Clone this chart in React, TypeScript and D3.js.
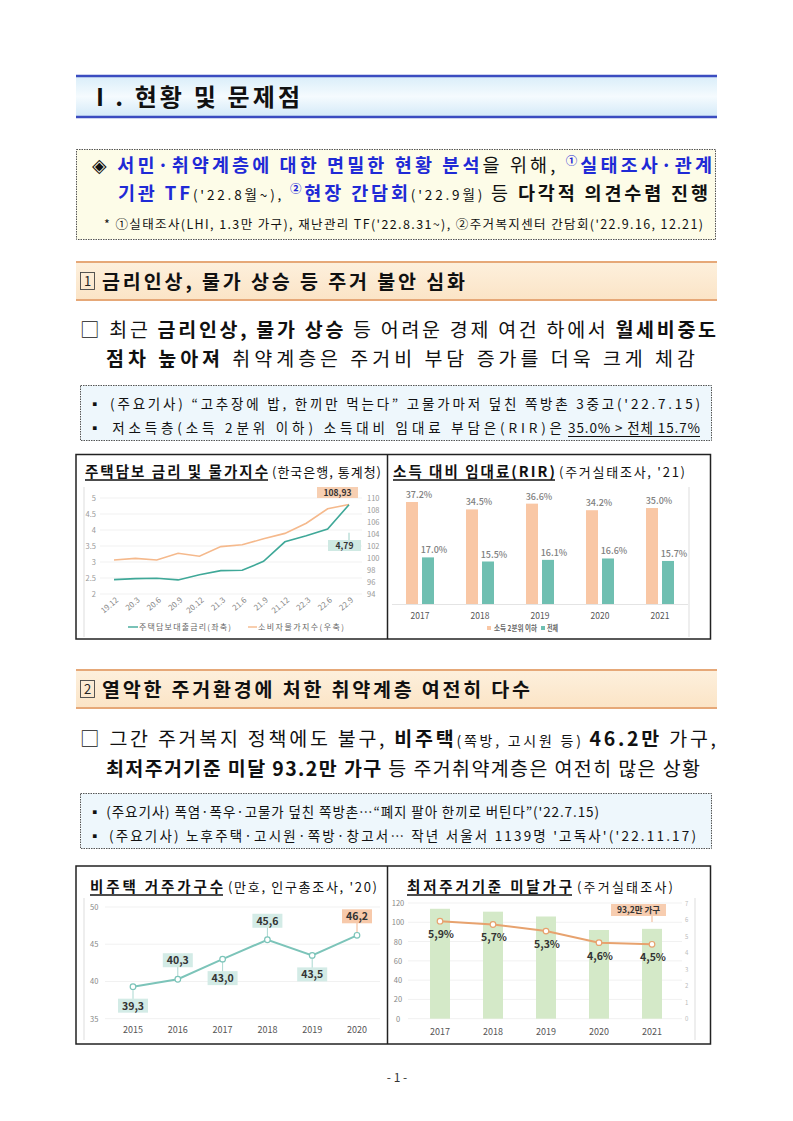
import React from "react";
import * as d3 from "d3";

const KR = "'Noto Sans CJK KR', 'Noto Sans', sans-serif";

// Chart 1: mortgage rate & CPI
const rateMonths = ["19.12", "20.3", "20.6", "20.9", "20.12", "21.3", "21.6", "21.9", "21.12", "22.3", "22.6", "22.9"];
const mortgageRate = [2.45, 2.48, 2.49, 2.44, 2.6, 2.73, 2.74, 3.02, 3.63, 3.82, 4.03, 4.79];
const cpiIndex = [99.67, 99.94, 99.67, 100.8, 100.3, 101.9, 102.2, 103.2, 104.1, 105.8, 108.2, 108.93];
const rateTicks = [2, 2.5, 3, 3.5, 4, 4.5, 5];
const cpiTicks = [94, 96, 98, 100, 102, 104, 106, 108, 110];

// Chart 2: RIR
const rirYears = ["2017", "2018", "2019", "2020", "2021"];
const rirLowIncome = [37.2, 34.5, 36.6, 34.2, 35.0];
const rirAll = [17.0, 15.5, 16.1, 16.6, 15.7];

// Chart 3: non-housing households
const nhYears = ["2015", "2016", "2017", "2018", "2019", "2020"];
const nonHousing = [39.3, 40.3, 43.0, 45.6, 43.5, 46.2];
const nhTicks = [35, 40, 45, 50];
const nhLabelAbove = [false, true, false, true, false, true];

// Chart 4: below minimum housing standard
const msYears = ["2017", "2018", "2019", "2020", "2021"];
const msHouseholds = [114, 111, 106, 92, 93.2];
const msRatio = [5.9, 5.7, 5.3, 4.6, 4.5];
const msTicksLeft = [0, 20, 40, 60, 80, 100, 120];
const msTicksRight = [0, 1, 2, 3, 4, 5, 6, 7];

type Seg = { t: string; b?: boolean; c?: string; s?: number; sup?: boolean };

function Line({ x, y, w, size, segs, weight }: { x: number; y: number; w?: number; size: number; segs: Seg[]; weight?: number }) {
  const out: any[] = [];
  let prevSup = false;
  segs.forEach((s, i) => {
    let dy: number | undefined = undefined;
    if (s.sup) dy = -size * 0.4;
    else if (prevSup) dy = size * 0.4;
    out.push(
      <tspan
        key={i}
        dy={dy}
        fontWeight={s.b ? 700 : weight ?? 400}
        fill={s.c ?? "#111"}
        fontSize={s.sup ? size * 0.62 : s.s ?? size}
      >
        {s.t}
      </tspan>
    );
    prevSup = !!s.sup;
  });
  return (
    <text x={x} y={y} fontSize={size} fontFamily={KR} textLength={w} lengthAdjust={w ? "spacing" : undefined} xmlSpace="preserve">
      {out}
    </text>
  );
}

function ChartTitle({ y, x1, x2, x3, x4, bold, src }: { y: number; x1: number; x2: number; x3: number; x4: number; bold: string; src: string }) {
  return (
    <g fontFamily={KR}>
      <text x={x1} y={y} fontSize={14.5} fontWeight={700} fill="#111" textLength={x2 - x1} lengthAdjust="spacing">{bold}</text>
      <line x1={x1} x2={x2} y1={y + 3} y2={y + 3} stroke="#111" strokeWidth={1.3} />
      <text x={x3} y={y} fontSize={13} fill="#111" textLength={x4 - x3} lengthAdjust="spacing">{src}</text>
    </g>
  );
}

const BLUE = "#1f2ad6";

function Chart1() {
  const x = d3.scalePoint<string>().domain(rateMonths).range([114, 349]);
  const yL = d3.scaleLinear().domain([2, 5]).range([594, 498]);
  const yR = d3.scaleLinear().domain([94, 110]).range([594, 498]);
  const lineL = d3.line<number>().x((_, i) => x(rateMonths[i])!).y((d) => yL(d));
  const lineR = d3.line<number>().x((_, i) => x(rateMonths[i])!).y((d) => yR(d));
  const last = rateMonths.length - 1;
  return (
    <g fontFamily={KR}>
      <line x1={84} x2={84} y1={487} y2={637} stroke="#ddd" />
      {rateTicks.map((t) => (
        <g key={t}>
          <line x1={100} x2={362} y1={yL(t)} y2={yL(t)} stroke="#f1f1f1" />
          <text x={96} y={yL(t) + 3} fontSize={7.5} fill="#999" textAnchor="end">{t}</text>
        </g>
      ))}
      {cpiTicks.map((t) => (
        <text key={t} x={367} y={yR(t) + 3} fontSize={7.5} fill="#999">{t}</text>
      ))}
      <path d={lineR(cpiIndex)!} fill="none" stroke="#f5b98c" strokeWidth={1.6} />
      <path d={lineL(mortgageRate)!} fill="none" stroke="#3fa898" strokeWidth={1.6} />
      {rateMonths.map((m) => (
        <text key={m} transform={`translate(${x(m)! + 5},${601}) rotate(-40)`} fontSize={8} fill="#888" textAnchor="end">{m}</text>
      ))}
      <rect x={317} y={487} width={41} height={11} fill="#f7cfb2" />
      <text x={337.5} y={495.5} fontSize={8.5} fontWeight={700} fill="#333" textAnchor="middle">108,93</text>
      <line x1={x(rateMonths[last])!} x2={x(rateMonths[last])!} y1={yL(mortgageRate[last]) + 28} y2={540} stroke="#9ccfc6" />
      <rect x={328} y={540} width={33} height={11} fill="#cfe9e3" />
      <text x={344.5} y={548.5} fontSize={8.5} fontWeight={700} fill="#333" textAnchor="middle">4,79</text>
      <line x1={128} x2={138} y1={627} y2={627} stroke="#3fa898" strokeWidth={1.4} />
      <text x={139} y={630} fontSize={8} fill="#666" textLength={92} lengthAdjust="spacing">주택담보대출금리(좌축)</text>
      <line x1={248} x2={257} y1={627} y2={627} stroke="#f5b98c" strokeWidth={1.4} />
      <text x={258} y={630} fontSize={8} fill="#666" textLength={86} lengthAdjust="spacing">소비자물가지수(우축)</text>
    </g>
  );
}

function Chart2() {
  const x = d3.scalePoint<string>().domain(rirYears).range([420, 660]);
  const y = d3.scaleLinear().domain([0, 37.2]).range([604, 502]);
  return (
    <g fontFamily={KR}>
      <line x1={689} x2={689} y1={487} y2={637} stroke="#ddd" />
      <line x1={392} x2={688} y1={604.5} y2={604.5} stroke="#e4e4e4" />
      {rirYears.map((yr, i) => {
        const cx = x(yr)!;
        return (
          <g key={yr}>
            <rect x={cx - 14} y={y(rirLowIncome[i])} width={12} height={604 - y(rirLowIncome[i])} fill="#f9c7a5" />
            <rect x={cx + 2} y={y(rirAll[i])} width={12} height={604 - y(rirAll[i])} fill="#6fbfb1" />
            <text x={cx - 1} y={y(rirLowIncome[i]) - 4} fontSize={9} fill="#808080" fontWeight={500} textAnchor="middle">{rirLowIncome[i].toFixed(1)}%</text>
            <text x={cx + 14} y={y(rirAll[i]) - 4} fontSize={9} fill="#808080" fontWeight={500} textAnchor="middle">{rirAll[i].toFixed(1)}%</text>
            <text x={cx} y={619} fontSize={8.5} fill="#555" textAnchor="middle">{yr}</text>
          </g>
        );
      })}
      <rect x={487} y={626} width={4} height={4} fill="#f9c7a5" />
      <text x={494} y={630.5} fontSize={7.5} fill="#666" fontWeight={700} textLength={43} lengthAdjust="spacingAndGlyphs">소득 2분위 이하</text>
      <rect x={541} y={626} width={4} height={4} fill="#6fbfb1" />
      <text x={547} y={630.5} fontSize={7.5} fill="#666" fontWeight={700} textLength={11} lengthAdjust="spacingAndGlyphs">전체</text>
    </g>
  );
}

function Chart3() {
  const x = d3.scalePoint<string>().domain(nhYears).range([133, 357]);
  const y = d3.scaleLinear().domain([35, 50]).range([1018.7, 907]);
  const line = d3.line<number>().x((_, i) => x(nhYears[i])!).y((d) => y(d));
  return (
    <g fontFamily={KR}>
      <line x1={84} x2={84} y1={898} y2={1040} stroke="#ddd" />
      {nhTicks.map((t) => (
        <g key={t}>
          <line x1={105} x2={380} y1={y(t)} y2={y(t)} stroke="#f1f1f1" />
          <text x={90} y={y(t) + 3} fontSize={7.5} fill="#888">{t}</text>
        </g>
      ))}
      <path d={line(nonHousing)!} fill="none" stroke="#7cc4b9" strokeWidth={2} />
      {nonHousing.map((v, i) => {
        const cx = x(nhYears[i])!;
        const cy = y(v);
        const ly = nhLabelAbove[i] ? cy - 19 : cy + 19;
        const last = i === nonHousing.length - 1;
        return (
          <g key={i}>
            <line x1={cx} x2={cx} y1={cy} y2={ly} stroke={last ? "#f2b48d" : "#a9d8d0"} />
            <circle cx={cx} cy={cy} r={2.8} fill="#fff" stroke="#7cc4b9" strokeWidth={1.2} />
            <rect x={cx - 15} y={ly - 7} width={30} height={14} fill={last ? "#f7c9aa" : "#d3ebe6"} />
            <text x={cx} y={ly + 4} fontSize={10.5} fontWeight={700} fill="#333" textAnchor="middle">{v.toFixed(1).replace(".", ",")}</text>
          </g>
        );
      })}
      {nhYears.map((yr) => (
        <text key={yr} x={x(yr)} y={1033} fontSize={9} fill="#555" textAnchor="middle">{yr}</text>
      ))}
    </g>
  );
}

function Chart4() {
  const x = d3.scalePoint<string>().domain(msYears).range([440, 652]);
  const yL = d3.scaleLinear().domain([0, 120]).range([1018.7, 903]);
  const yR = d3.scaleLinear().domain([0, 7]).range([1018.7, 903]);
  const line = d3.line<number>().x((_, i) => x(msYears[i])!).y((d) => yR(d));
  const last = msYears.length - 1;
  return (
    <g fontFamily={KR}>
      <line x1={695} x2={695} y1={898} y2={1040} stroke="#ddd" />
      {msTicksLeft.map((t) => (
        <g key={t}>
          <line x1={408} x2={682} y1={yL(t)} y2={yL(t)} stroke="#f1f1f1" />
          <text x={398} y={yL(t) + 3} fontSize={7.5} fill="#888" textAnchor="middle">{t}</text>
        </g>
      ))}
      {msTicksRight.map((t) => (
        <text key={t} x={685} y={yR(t) + 2.5} fontSize={6} fill="#bbb">{t}</text>
      ))}
      {msHouseholds.map((v, i) => (
        <rect key={i} x={x(msYears[i])! - 10} y={yL(v)} width={20} height={yL(0) - yL(v)} fill="#d4e9c8" />
      ))}
      <path d={line(msRatio)!} fill="none" stroke="#e7a26e" strokeWidth={2} />
      {msRatio.map((v, i) => (
        <g key={i}>
          <circle cx={x(msYears[i])} cy={yR(v)} r={2.8} fill="#fff" stroke="#e7a26e" strokeWidth={1.2} />
          <text x={x(msYears[i])! + 1} y={yR(v) + 17} fontSize={10.5} fontWeight={700} fill="#333" textAnchor="middle">{v.toFixed(1).replace(".", ",")}%</text>
        </g>
      ))}
      <line x1={x(msYears[last])} x2={x(msYears[last])} y1={916} y2={922} stroke="#f2b48d" />
      <rect x={611} y={904} width={55} height={12} fill="#f7cdb0" />
      <text x={638.5} y={913} fontSize={8.5} fontWeight={700} fill="#333" textAnchor="middle">{`${msHouseholds[last].toFixed(1).replace(".", ",")}만 가구`}</text>
      {msYears.map((yr) => (
        <text key={yr} x={x(yr)} y={1035} fontSize={9} fill="#555" textAnchor="middle">{yr}</text>
      ))}
    </g>
  );
}

function SectionHeader({ y, num, text, w }: { y: number; num: string; text: string; w: number }) {
  return (
    <g>
      <rect x={76} y={y} width={641} height={38} fill="url(#peach)" />
      <line x1={76} x2={717} y1={y} y2={y} stroke="#e6a878" strokeWidth={2} />
      <line x1={76} x2={717} y1={y + 38} y2={y + 38} stroke="#e6a878" strokeWidth={2} />
      <rect x={80.5} y={y + 10.5} width={14} height={17} fill="none" stroke="#444" strokeWidth={0.9} />
      <text x={87.5} y={y + 24} fontSize={13} fontFamily={KR} textAnchor="middle" fill="#222">{num}</text>
      <text x={102} y={y + 27} fontSize={19.5} fontWeight={700} fontFamily={KR} fill="#111" textLength={w} lengthAdjust="spacing">{text}</text>
    </g>
  );
}

export default function App() {
  return (
    <div style={{ position: "absolute", left: 0, top: 0 }}>
      <svg width={793} height={1121} viewBox="0 0 793 1121" style={{ display: "block", background: "#fff" }}>
        <defs>
          <linearGradient id="blueHead" x1="0" y1="0" x2="0" y2="1">
            <stop offset="0" stopColor="#d9edf9" />
            <stop offset="0.5" stopColor="#f5fbfe" />
            <stop offset="1" stopColor="#d3e9f8" />
          </linearGradient>
          <linearGradient id="peach" x1="0" y1="0" x2="0" y2="1">
            <stop offset="0" stopColor="#fdf0dd" />
            <stop offset="1" stopColor="#fbe4c6" />
          </linearGradient>
        </defs>

        {/* Title */}
        <rect x={76} y={76} width={641} height={41} fill="url(#blueHead)" />
        <line x1={76} x2={717} y1={76} y2={76} stroke="#3b4cc0" strokeWidth={2.5} />
        <line x1={76} x2={717} y1={117} y2={117} stroke="#3b4cc0" strokeWidth={2.5} />
        <text x={88} y={106} fontSize={24} fontWeight={700} fontFamily={KR} fill="#111" textLength={212} lengthAdjust="spacing">Ⅰ. 현황 및 문제점</text>

        {/* Summary box */}
        <rect x={76.5} y={149.5} width={639} height={90} fill="#fdfce8" stroke="#555" strokeDasharray="1.5 1" />
        <Line x={92} y={172} w={620} size={18.5} segs={[
          { t: "◈ " },
          { t: "서민·취약계층에 대한 면밀한 현황 분석", b: true, c: BLUE },
          { t: "을 위해, " },
          { t: "①", sup: true, c: BLUE, b: true },
          { t: "실태조사·관계", b: true, c: BLUE },
        ]} />
        <Line x={118} y={200} w={590} size={18.5} segs={[
          { t: "기관 TF", b: true, c: BLUE },
          { t: "('22.8월~), ", s: 13.5 },
          { t: "②", sup: true, c: BLUE, b: true },
          { t: "현장 간담회", b: true, c: BLUE },
          { t: "('22.9월) ", s: 13.5 },
          { t: "등 " },
          { t: "다각적 의견수렴 진행", b: true },
        ]} />
        <Line x={104} y={229} w={599} size={12.5} segs={[
          { t: "* ①실태조사(LHI, 1.3만 가구), 재난관리 TF('22.8.31~), ②주거복지센터 간담회('22.9.16, 12.21)" },
        ]} />

        {/* Section 1 */}
        <SectionHeader y={262} num="1" text="금리인상, 물가 상승 등 주거 불안 심화" w={363} />
        <Line x={80} y={337} w={636} size={19.5} segs={[
          { t: "□ 최근 " },
          { t: "금리인상, 물가 상승", b: true },
          { t: " 등 어려운 경제 여건 하에서 " },
          { t: "월세비중도", b: true },
        ]} />
        <Line x={106} y={366} w={589} size={19.5} segs={[
          { t: "점차 높아져", b: true },
          { t: " 취약계층은 주거비 부담 증가를 더욱 크게 체감" },
        ]} />
        <rect x={80.5} y={385.5} width={631} height={55} fill="#eef7fc" stroke="#555" strokeDasharray="1.5 1" />
        <Line x={88} y={409} w={612} size={13.5} segs={[
          { t: "▪ (주요기사) “고추장에 밥, 한끼만 먹는다” 고물가마저 덮친 쪽방촌 3중고('22.7.15)" },
        ]} />
        <Line x={88} y={433} w={474} size={13.5} segs={[
          { t: "▪ 저소득층(소득 2분위 이하) 소득대비 임대료 부담은(RIR)은" },
        ]} />
        <Line x={568} y={433} w={132} size={13.5} segs={[{ t: "35.0% > 전체 15.7%" }]} />
        <line x1={568} x2={700} y1={436.5} y2={436.5} stroke="#111" strokeWidth={1} />

        {/* Chart frame 1 */}
        <rect x={76} y={454.5} width={634.5} height={184.5} fill="none" stroke="#222" strokeWidth={1.5} />
        <line x1={387.5} x2={387.5} y1={454.5} y2={639} stroke="#222" strokeWidth={1.5} />
        <ChartTitle y={477} x1={85} x2={268} x3={272} x4={381} bold="주택담보 금리 및 물가지수" src="(한국은행, 통계청)" />
        <ChartTitle y={477} x1={393} x2={555} x3={559} x4={685} bold="소득 대비 임대료(RIR)" src="(주거실태조사, '21)" />
        <Chart1 />
        <Chart2 />

        {/* Section 2 */}
        <SectionHeader y={670} num="2" text="열악한 주거환경에 처한 취약계층 여전히 다수" w={428} />
        <Line x={80} y={746} w={636} size={19.5} segs={[
          { t: "□ 그간 주거복지 정책에도 불구, " },
          { t: "비주택", b: true },
          { t: "(쪽방, 고시원 등) ", s: 14 },
          { t: "46.2만", b: true },
          { t: " 가구," },
        ]} />
        <Line x={106} y={776} w={594} size={19.5} segs={[
          { t: "최저주거기준 미달 93.2만 가구", b: true },
          { t: " 등 주거취약계층은 여전히 많은 상황" },
        ]} />
        <rect x={80.5} y={793.5} width={631} height={55} fill="#eef7fc" stroke="#555" strokeDasharray="1.5 1" />
        <Line x={88} y={817} w={511} size={13.5} segs={[
          { t: "▪ (주요기사) 폭염·폭우·고물가 덮친 쪽방촌…“폐지 팔아 한끼로 버틴다”('22.7.15)" },
        ]} />
        <Line x={88} y={841} w={608} size={13.5} segs={[
          { t: "▪ (주요기사) 노후주택·고시원·쪽방·창고서… 작년 서울서 1139명 '고독사'('22.11.17)" },
        ]} />

        {/* Chart frame 2 */}
        <rect x={76} y={866} width={634.5} height={178} fill="none" stroke="#222" strokeWidth={1.5} />
        <line x1={387.5} x2={387.5} y1={866} y2={1044} stroke="#222" strokeWidth={1.5} />
        <ChartTitle y={892} x1={90} x2={223} x3={228} x4={377} bold="비주택 거주가구수" src="(만호, 인구총조사, '20)" />
        <ChartTitle y={892} x1={407} x2={572} x3={577} x4={673} bold="최저주거기준 미달가구" src="(주거실태조사)" />
        <Chart3 />
        <Chart4 />

        <text x={397} y={1082} fontSize={12} fontFamily={KR} fill="#333" textAnchor="middle">- 1 -</text>
      </svg>
    </div>
  );
}
